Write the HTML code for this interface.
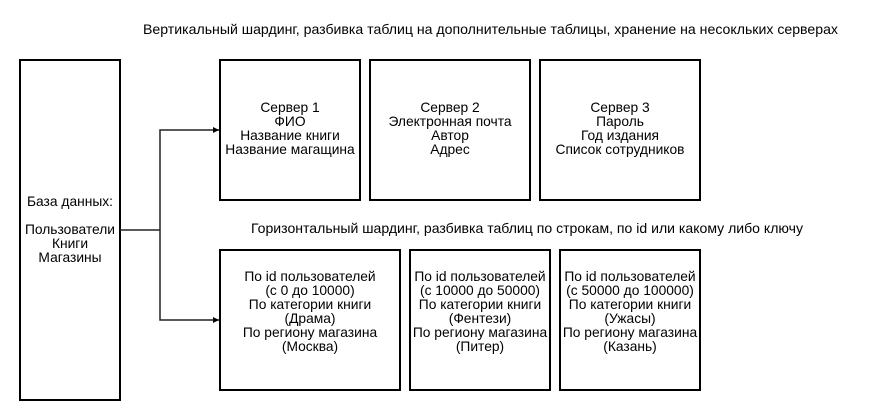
<!DOCTYPE html>
<html><head><meta charset="utf-8"><style>
html,body{margin:0;padding:0;background:#fff;}
svg{display:block;}
text{font-family:"Liberation Sans",Arial,sans-serif;font-size:13.8px;fill:#000;}
</style></head><body>
<svg width="870" height="420" viewBox="0 0 870 420" xmlns="http://www.w3.org/2000/svg">
<defs><marker id="a" markerWidth="8" markerHeight="8" refX="6" refY="3" orient="auto" markerUnits="userSpaceOnUse"><path d="M0,0 L6,3 L0,6 z" fill="#000"/></marker></defs>
<text x="143" y="34" textLength="695" lengthAdjust="spacingAndGlyphs">Вертикальный шардинг, разбивка таблиц на дополнительные таблицы, хранение на несокльких серверах</text>
<text x="251" y="233" textLength="552" lengthAdjust="spacingAndGlyphs">Горизонтальный шардинг, разбивка таблиц по строкам, по id или какому либо ключу</text>
<g fill="none" stroke="#000" stroke-width="2">
<rect x="20" y="60" width="100" height="340"/>
<rect x="220" y="60" width="140" height="140"/>
<rect x="370" y="60" width="160" height="140"/>
<rect x="540" y="60" width="160" height="140"/>
<rect x="220" y="250" width="180" height="140"/>
<rect x="410" y="250" width="140" height="140"/>
<rect x="560" y="250" width="140" height="140"/>
</g>
<g fill="none" stroke="#222" stroke-width="1.5">
<path d="M120,230 H160"/>
<path d="M160,230 V130 H219" marker-end="url(#a)"/>
<path d="M160,230 V320 H219" marker-end="url(#a)"/>
</g>
<g text-anchor="middle">
<text x="70" y="206">База данных:</text>
<text x="70" y="234">Пользователи</text>
<text x="70" y="248">Книги</text>
<text x="70" y="262">Магазины</text>
<text x="290" y="112">Сервер 1</text><text x="290" y="126">ФИО</text><text x="290" y="140">Название книги</text><text x="290" y="154">Название магащина</text>
<text x="450" y="112">Сервер 2</text><text x="450" y="126">Электронная почта</text><text x="450" y="140">Автор</text><text x="450" y="154">Адрес</text>
<text x="620" y="112">Сервер 3</text><text x="620" y="126">Пароль</text><text x="620" y="140">Год издания</text><text x="620" y="154">Список сотрудников</text>
<text x="310" y="281">По id пользователей</text><text x="310" y="295">(с 0 до 10000)</text><text x="310" y="309">По категории книги</text><text x="310" y="323">(Драма)</text><text x="310" y="337">По региону магазина</text><text x="310" y="351">(Москва)</text>
<text x="480" y="281">По id пользователей</text><text x="480" y="295">(с 10000 до 50000)</text><text x="480" y="309">По категории книги</text><text x="480" y="323">(Фентези)</text><text x="480" y="337">По региону магазина</text><text x="480" y="351">(Питер)</text>
<text x="630" y="281">По id пользователей</text><text x="630" y="295">(с 50000 до 100000)</text><text x="630" y="309">По категории книги</text><text x="630" y="323">(Ужасы)</text><text x="630" y="337">По региону магазина</text><text x="630" y="351">(Казань)</text>
</g>
</svg>
</body></html>
